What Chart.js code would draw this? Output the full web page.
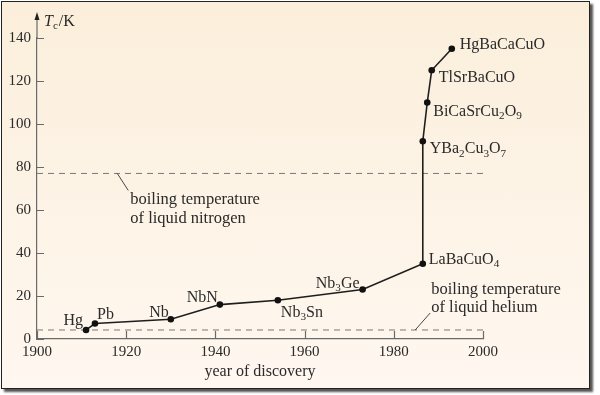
<!DOCTYPE html>
<html>
<head>
<meta charset="utf-8">
<script src="https://cdn.jsdelivr.net/npm/chart.js@4.4.0/dist/chart.umd.min.js"></script>
<style>
  html, body { margin: 0; padding: 0; width: 600px; height: 395px; background: #fff; overflow: hidden; }
  #frame {
    position: absolute; left: 1px; top: 1px; width: 587px; height: 386px;
    border: 1px solid #222;
    background: linear-gradient(#fbefdb, #fff7f0);
    box-shadow: 3px 3px 2px #555;
  }
  #myChart { position: absolute; left: 0; top: 0; }
</style>
</head>
<body>
<div id="frame"></div>
<canvas id="myChart" width="600" height="395"></canvas>
<script>
// superconductors: year of discovery vs critical temperature
const materials = ['Hg', 'Pb', 'Nb', 'NbN', 'Nb_3Sn', 'Nb_3Ge', 'LaBaCuO_4', 'YBa_2Cu_3O_7', 'BiCaSrCu_2O_9', 'TlSrBaCuO', 'HgBaCaCuO'];
const years = [1911, 1913, 1930, 1941, 1954, 1973, 1986.5, 1986.5, 1987.5, 1988.5, 1993];
const tc = [4.2, 7.2, 9.2, 16, 18, 23, 35, 92, 110, 125, 135];

const nitrogenK = 77;
const heliumK = 4.2;
const yearRange = [1900, 2000];
const xTicks = [1900, 1920, 1940, 1960, 1980, 2000];
const yTicks = [0, 20, 40, 60, 80, 100, 120, 140];

const serif = '"Liberation Serif", "Times New Roman", serif';
const axisColor = '#6a6a6a';
const inkColor = '#2a2a2a';

// where each material name sits next to its point
const labelPlace = [
  [-3, -10, 'right'], [2, -10, 'left'], [-2, -8, 'right'], [-2, -8, 'right'],
  [3, 11, 'left'], [-3, -7, 'right'], [6, -5, 'left'], [7, 7, 'left'],
  [6, 8, 'left'], [7, 6, 'left'], [8, -5, 'left']
];

// text with _N subscripts
function drawRich(ctx, str, x, cy, align, size) {
  const parts = str.split(/_(\d)/);
  const sub = size * 0.7;
  let w = 0;
  parts.forEach((p, i) => {
    ctx.font = (i % 2 ? sub : size) + 'px ' + serif;
    w += ctx.measureText(p).width;
  });
  let px = align === 'right' ? x - w : (align === 'center' ? x - w / 2 : x);
  const base = cy + size * 0.33;
  ctx.textAlign = 'left';
  ctx.textBaseline = 'alphabetic';
  parts.forEach((p, i) => {
    ctx.font = (i % 2 ? sub : size) + 'px ' + serif;
    ctx.fillText(p, px, i % 2 ? base + size * 0.2 : base);
    px += ctx.measureText(p).width;
  });
}

const decorations = {
  id: 'decorations',
  afterDatasetsDraw(chart) {
    const ctx = chart.ctx;
    const xs = chart.scales.x, ys = chart.scales.y;
    const area = chart.chartArea;
    ctx.save();

    // inward tick marks
    ctx.strokeStyle = axisColor;
    ctx.lineWidth = 1.2;
    ctx.beginPath();
    yTicks.forEach(v => {
      const py = Math.round(ys.getPixelForValue(v)) + 0.5;
      ctx.moveTo(area.left, py); ctx.lineTo(area.left + 7, py);
    });
    xTicks.forEach(v => {
      const px = Math.round(xs.getPixelForValue(v)) + 0.5;
      ctx.moveTo(px, area.bottom); ctx.lineTo(px, area.bottom - 8);
    });
    // y axis extension with arrow
    ctx.moveTo(area.left, area.top); ctx.lineTo(area.left, 17);
    ctx.stroke();
    ctx.fillStyle = '#222';
    ctx.beginPath();
    ctx.moveTo(area.left, 12);
    ctx.lineTo(area.left - 2.5, 20);
    ctx.lineTo(area.left + 2.5, 20);
    ctx.closePath();
    ctx.fill();

    // axis label T_c/K
    ctx.fillStyle = inkColor;
    ctx.textBaseline = 'alphabetic';
    ctx.textAlign = 'left';
    ctx.font = 'italic 16px ' + serif;
    ctx.fillText('T', 44, 26);
    let tx = 44 + ctx.measureText('T').width;
    ctx.font = '11px ' + serif;
    ctx.fillText('c', tx, 29);
    tx += ctx.measureText('c').width + 1;
    ctx.font = '16px ' + serif;
    ctx.fillText('/K', tx, 26);

    // material names
    materials.forEach((m, i) => {
      const [dx, dy, align] = labelPlace[i];
      const px = xs.getPixelForValue(years[i]);
      const py = ys.getPixelForValue(tc[i]);
      drawRich(ctx, m, px + dx, py + dy, align, 16);
    });

    // boiling point notes with leader lines
    ctx.strokeStyle = '#333';
    ctx.lineWidth = 0.9;
    const nx = xs.getPixelForValue(1918), ny = ys.getPixelForValue(nitrogenK);
    ctx.beginPath(); ctx.moveTo(nx, ny); ctx.lineTo(nx + 11, ny + 17); ctx.stroke();
    drawRich(ctx, 'boiling temperature', nx + 13, ny + 25, 'left', 16.5);
    drawRich(ctx, 'of liquid nitrogen', nx + 13, ny + 44, 'left', 16.5);

    const hx = xs.getPixelForValue(1984.8), hy = ys.getPixelForValue(heliumK);
    ctx.beginPath(); ctx.moveTo(hx, hy); ctx.lineTo(hx + 15, hy - 17); ctx.stroke();
    drawRich(ctx, 'boiling temperature', hx + 16, hy - 41, 'left', 16.5);
    drawRich(ctx, 'of liquid helium', hx + 16, hy - 23, 'left', 16.5);

    ctx.restore();
  }
};

const data = {
  datasets: [{
    label: 'Tc',
    data: years.map((y, i) => ({ x: y, y: tc[i] })),
    borderColor: '#1e1e1e',
    backgroundColor: '#111',
    borderWidth: 1.6,
    pointRadius: 3.3,
    pointBorderWidth: 0,
    tension: 0,
    clip: false
  }, {
    label: 'nitrogen',
    data: [{ x: yearRange[0], y: nitrogenK }, { x: yearRange[1], y: nitrogenK }],
    borderColor: '#777',
    borderWidth: 1,
    borderDash: [6, 5],
    pointRadius: 0
  }, {
    label: 'helium',
    data: [{ x: yearRange[0], y: heliumK }, { x: yearRange[1], y: heliumK }],
    borderColor: '#777',
    borderWidth: 1,
    borderDash: [6, 5],
    pointRadius: 0
  }]
};

const config = {
  type: 'line',
  data,
  options: {
    responsive: false,
    animation: false,
    events: [],
    layout: { padding: { left: 0, top: 38, right: 117, bottom: 11 } },
    plugins: { legend: { display: false }, tooltip: { enabled: false } },
    scales: {
      x: {
        type: 'linear',
        min: yearRange[0],
        max: yearRange[1],
        afterBuildTicks: s => { s.ticks = xTicks.map(v => ({ value: v })); },
        afterFit: s => { s.height = 45; },
        grid: { display: false, drawTicks: false },
        border: { color: axisColor, width: 1.2 },
        ticks: { color: inkColor, padding: 4, font: { family: serif, size: 15 }, callback: v => String(v) },
        title: { display: true, text: 'year of discovery', color: inkColor, padding: { top: 0, bottom: 3 }, font: { family: serif, size: 16 } }
      },
      y: {
        min: 0,
        max: 140,
        afterBuildTicks: s => { s.ticks = yTicks.map(v => ({ value: v })); },
        afterFit: s => { s.width = 37; },
        grid: { display: false, drawTicks: false },
        border: { color: axisColor, width: 1.2 },
        ticks: { color: inkColor, padding: 6, font: { family: serif, size: 15 } }
      }
    }
  },
  plugins: [decorations]
};

const myChart = new Chart(document.getElementById('myChart'), config);
</script>
</body>
</html>
